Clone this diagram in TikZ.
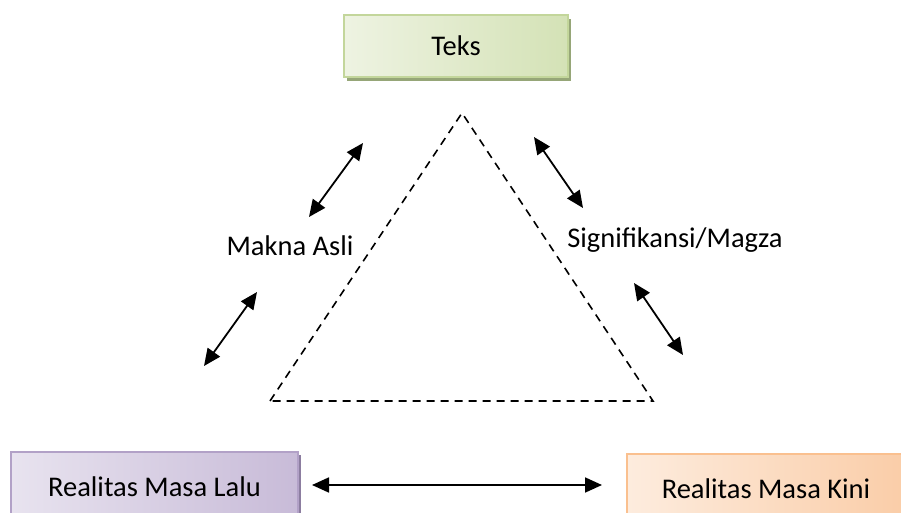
\documentclass[tikz,border=0pt]{standalone}
\usepackage{fontspec}
\setmainfont{Carlito}
\usetikzlibrary{arrows.meta,shadows}
\begin{document}
\begin{tikzpicture}[x=1pt,y=-1pt,
  lbl/.style={font=\fontsize{28.5}{34}\selectfont, inner sep=0pt},
  boxnode/.style={lbl, line width=1.2pt, minimum height=62pt, text height=20pt, text depth=0pt},
  dbl/.style={line width=1.8pt, {Triangle[length=17pt,width=15pt]}-{Triangle[length=17pt,width=15pt]}},
  dashtri/.style={line width=1.6pt, dash pattern=on 8pt off 6pt}]
\useasboundingbox (0,0) rectangle (901,513);
\clip (0,0) rectangle (901,513);
\definecolor{gborder}{RGB}{195,214,155}
\definecolor{gdark}{RGB}{212,226,182}
\definecolor{glight}{RGB}{238,243,226}
\definecolor{gshadow}{RGB}{150,166,120}
\definecolor{pborder}{RGB}{178,161,199}
\definecolor{pdark}{RGB}{200,187,216}
\definecolor{plight}{RGB}{232,227,239}
\definecolor{pshadow}{RGB}{140,125,160}
\definecolor{oborder}{RGB}{250,192,143}
\definecolor{odark}{RGB}{250,205,168}
\definecolor{olight}{RGB}{253,236,222}

\node[boxnode, draw=gborder, minimum width=224pt, left color=glight, right color=gdark,
  drop shadow={shadow xshift=3pt, shadow yshift=-4pt, fill=gshadow, opacity=1}]
  (teks) at (456,46) {Teks};
\node[boxnode, draw=pborder, minimum width=287pt, minimum height=66pt, left color=plight, right color=pdark,
  drop shadow={shadow xshift=3pt, shadow yshift=-3pt, fill=pshadow, opacity=1}]
  (lalu) at (154.5,485) {\raisebox{-1pt}{Realitas Masa Lalu}};
\node[boxnode, draw=oborder, minimum width=278pt, minimum height=66pt, left color=olight, right color=odark]
  (kini) at (766,487) {\raisebox{-1pt}{Realitas Masa Kini}};

\coordinate (apex) at (462,113);
\coordinate (bl) at (270,401);
\coordinate (br) at (653,401);
\draw[dashtri] (bl) -- (apex) -- (br) -- cycle;

\node[lbl, anchor=base] (makna) at (290,255) {Makna Asli};
\node[lbl, anchor=base] (sig) at (675,247) {Signifikansi/Magza};

\coordinate (a1s) at (309,217); \coordinate (a1e) at (363,143);
\coordinate (a2s) at (204,366); \coordinate (a2e) at (257,292);
\coordinate (a3s) at (534,137); \coordinate (a3e) at (583,208);
\coordinate (a4s) at (634,283); \coordinate (a4e) at (683,355);
\coordinate (m1) at (312,485); \coordinate (m2) at (602,485);
\draw[dbl] (a1s) -- (a1e);
\draw[dbl] (a2s) -- (a2e);
\draw[dbl] (a3s) -- (a3e);
\draw[dbl] (a4s) -- (a4e);
\draw[dbl] (m1) -- (m2);
\end{tikzpicture}
\end{document}
